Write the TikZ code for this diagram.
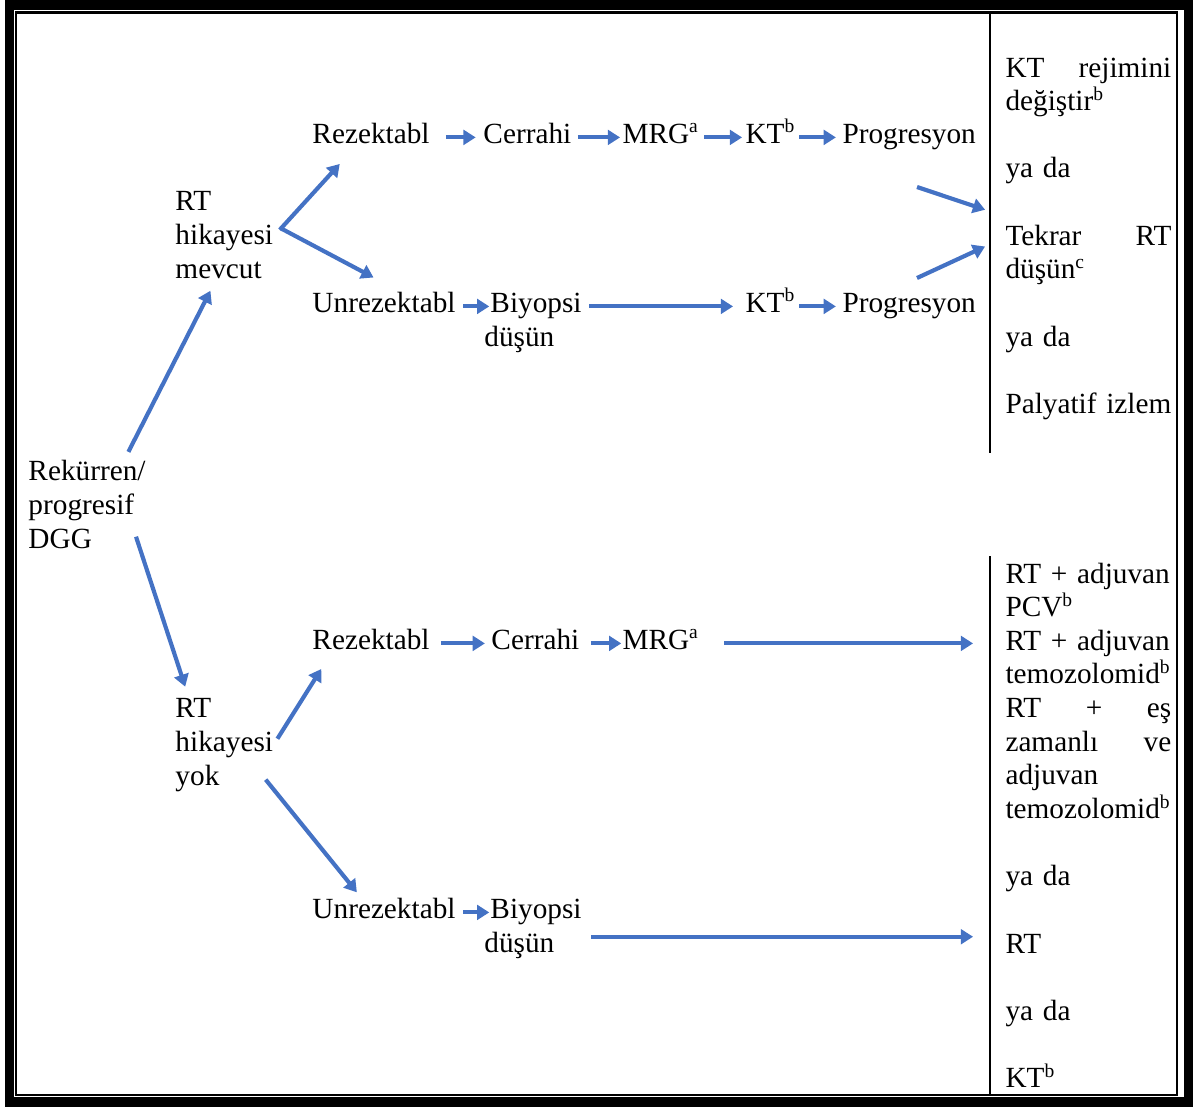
\documentclass[tikz,border=0pt]{standalone}
\usepackage{fontspec}
\setmainfont{Liberation Serif}
\usepackage{tikz}
\usetikzlibrary{positioning,arrows.meta}

\definecolor{okmavi}{RGB}{68,114,196}

\begin{document}
\begin{tikzpicture}[x=0.41pt, y=-0.41pt,
        metin/.style={anchor=base west, inner sep=0pt, align=left, font=\fontsize{12}{13.8}\selectfont},
        secenek/.style={metin, text width=68pt},
        ok/.style={-{Triangle[length=5pt, width=6pt]}, line width=1.7pt, draw=okmavi},
        cizgi/.style={line width=0.9pt}]
        \useasboundingbox (0,0) rectangle (1195,1106);

        % Cornice e colonna destra
        \draw[line width=4pt] (9.5,5) rectangle (1188.5,1102);
        \draw[cizgi] (16,12.5) rectangle (1177,1095);
        \draw[cizgi] (990,12.5) -- (990,453);
        \draw[cizgi] (990,556) -- (990,1095);

        % Nodo iniziale (base = ultima riga)
        \node[metin] (rekurren) at (28,548) {Rekürren/\\progresif\\DGG};

        % Ramo superiore (RT hikayesi mevcut)
        \node[metin] (rt_mevcut) at (175,278) {RT\\hikayesi\\mevcut};
        \node[metin] (rezektabl_1) at (312,143) {Rezektabl};
        \node[metin] (cerrahi_1) at (483,143) {Cerrahi};
        \node[metin] (mrg_1) at (622,143) {MRG\textsuperscript{a}};
        \node[metin] (kt_1) at (745,143) {KT\textsuperscript{b}};
        \node[metin] (progresyon_1) at (842,143) {Progresyon};
        \node[metin] (unrezektabl_1) at (312,312) {Unrezektabl};
        \node[metin] (biyopsi_1) at (490,346) {Biyopsi\\\hspace*{-2.5pt}düşün};
        \node[metin] (kt_2) at (745,312) {KT\textsuperscript{b}};
        \node[metin] (progresyon_2) at (842,312) {Progresyon};
        \coordinate (ayrim_1) at (917,187);
        \coordinate (ayrim_2) at (917,278);

        % Opzioni dopo la progressione
        \node[secenek] (secenek_1) at (1005,77) {
            KT\hfill rejimini\\
            değiştir\textsuperscript{b}\\[13.8pt]
            ya da\\[13.8pt]
            Tekrar\hfill RT\\
            düşün\textsuperscript{c}\\[13.8pt]
            ya da\\[13.8pt]
            Palyatif izlem
        };

        % Ramo inferiore (RT hikayesi yok)
        \node[metin] (rt_yok) at (175,785) {RT\\hikayesi\\yok};
        \node[metin] (rezektabl_2) at (312,649) {Rezektabl};
        \node[metin] (cerrahi_2) at (491,649) {Cerrahi};
        \node[metin] (mrg_2) at (622,649) {MRG\textsuperscript{a}};
        \node[metin] (unrezektabl_2) at (312,918) {Unrezektabl};
        \node[metin] (biyopsi_2) at (490,952) {Biyopsi\\\hspace*{-2.5pt}düşün};

        % Opzioni di trattamento
        \node[secenek] (secenek_2) at (1005,583) {
            RT + adjuvan\\
            PCV\textsuperscript{b}\\
            RT + adjuvan\\
            temozolomid\textsuperscript{b}\\
            RT\hfill +\hfill eş\\
            zamanlı\hfill ve\\
            adjuvan\\
            temozolomid\textsuperscript{b}\\[13.8pt]
            ya da\\[13.8pt]
            RT\\[13.8pt]
            ya da\\[13.8pt]
            KT\textsuperscript{b}
        };

        % Frecce
        \draw[ok, shorten <=3.7pt, shorten >=5.5pt] (rekurren.50) -- (rt_mevcut.260);
        \draw[ok, shorten <=3.8pt, shorten >=11.2pt] (rt_mevcut.358) -- (rezektabl_1.220);
        \draw[ok, shorten <=3.3pt, shorten >=12pt] (rt_mevcut.12) -- (unrezektabl_1.35);
        \draw[ok, shorten <=6.5pt, shorten >=3pt] (rezektabl_1.mid east) -- (cerrahi_1.mid west);
        \draw[ok, shorten <=2.5pt, shorten >=0.8pt] (cerrahi_1.mid east) -- (mrg_1.mid west);
        \draw[ok, shorten <=1.9pt, shorten >=1.2pt] (mrg_1.mid east) -- (kt_1.mid west);
        \draw[ok, shorten <=1.3pt, shorten >=2.5pt] (kt_1.mid east) -- (progresyon_1.mid west);
        \draw[ok, shorten <=2.9pt, shorten >=0.3pt] (unrezektabl_1.mid east) -- (unrezektabl_1.mid east -| biyopsi_1.west);
        \draw[ok, shorten <=2.9pt, shorten >=4.9pt] (kt_2.mid west -| biyopsi_1.east) -- (kt_2.mid west);
        \draw[ok, shorten <=1.3pt, shorten >=2.5pt] (kt_2.mid east) -- (progresyon_2.mid west);
        \draw[ok, shorten >=8.6pt] (ayrim_1) -- (secenek_1.165);
        \draw[ok, shorten >=9pt] (ayrim_2) -- (secenek_1.179);

        \draw[ok, shorten <=-5.2pt, shorten >=4.9pt] (rekurren.320) -- (rt_yok.127);
        \draw[ok, shorten <=3pt, shorten >=9.3pt] (rt_yok.east) -- (rezektabl_2.196);
        \draw[ok, shorten <=-5.1pt, shorten >=2.6pt] (rt_yok.318) -- (unrezektabl_2.155);
        \draw[ok, shorten <=4.5pt, shorten >=2.5pt] (rezektabl_2.mid east) -- (cerrahi_2.mid west);
        \draw[ok, shorten <=4.6pt, shorten >=0.3pt] (cerrahi_2.mid east) -- (mrg_2.mid west);
        \draw[ok, shorten <=10.1pt, shorten >=13.1pt] (mrg_2.mid east) -- (mrg_2.mid east -| secenek_2.west);
        \draw[ok, shorten <=2.9pt, shorten >=0.3pt] (unrezektabl_2.mid east) -- (unrezektabl_2.mid east -| biyopsi_2.west);
        \draw[ok, shorten <=3.7pt, shorten >=13.1pt] (biyopsi_2.350) -- (biyopsi_2.350 -| secenek_2.west);
    \end{tikzpicture}
\end{document}
